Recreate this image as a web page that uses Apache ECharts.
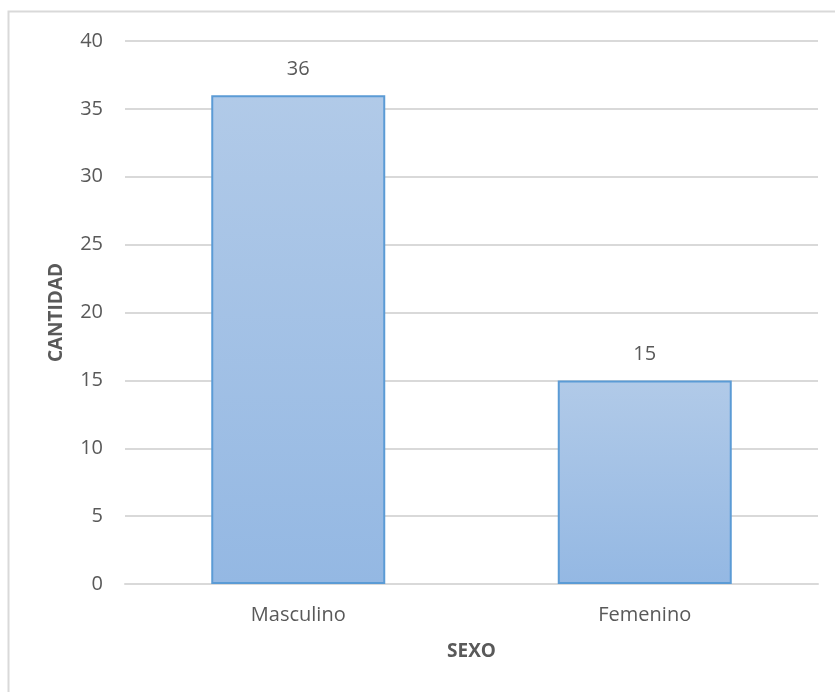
<!DOCTYPE html>
<html>
<head>
<meta charset="utf-8">
<script src="https://cdn.jsdelivr.net/npm/echarts@6/dist/echarts.min.js"></script>
<style>
  html, body { margin: 0; padding: 0; background: #fff; }
  #chart { width: 835px; height: 692px; }
</style>
</head>
<body>
<div id="chart"></div>
<script>
// Count of people by sex
const categories = ['Masculino', 'Femenino'];
const counts = [36, 15];
const yTicks = { min: 0, max: 40, step: 5 };

const textGray = '#595959';
const fontFam = '"Open Sans", "Liberation Sans", sans-serif';

const chart = echarts.init(document.getElementById('chart'), null, { renderer: 'canvas' });
chart.setOption({
  backgroundColor: '#ffffff',
  animation: false,
  graphic: [{
    type: 'rect',
    shape: { x: 8.5, y: 11.5, width: 900, height: 800 },
    style: { fill: 'none', stroke: '#d9d9d9', lineWidth: 2 },
    silent: true
  }],
  grid: { left: 125, right: 17, top: 41, bottom: 108 },
  xAxis: {
    type: 'category',
    data: categories,
    name: 'SEXO',
    nameLocation: 'middle',
    nameGap: 58,
    nameTextStyle: { color: textGray, fontSize: 19, fontWeight: 'bold', fontFamily: fontFam },
    axisLine: { lineStyle: { color: '#d9d9d9', width: 2 } },
    axisTick: { show: false },
    axisLabel: { color: textGray, fontSize: 20, margin: 21, fontFamily: fontFam }
  },
  yAxis: {
    type: 'value',
    min: yTicks.min,
    max: yTicks.max,
    interval: yTicks.step,
    name: 'CANTIDAD',
    nameLocation: 'middle',
    nameGap: 59,
    nameTextStyle: { color: textGray, fontSize: 19, fontWeight: 'bold', fontFamily: fontFam },
    axisLine: { show: false },
    axisTick: { show: false },
    axisLabel: { color: textGray, fontSize: 20, margin: 22, fontFamily: fontFam },
    splitLine: { lineStyle: { color: '#d9d9d9', width: 2 } }
  },
  series: [{
    type: 'bar',
    data: counts,
    barWidth: 174,
    itemStyle: {
      color: new echarts.graphic.LinearGradient(0, 0, 0, 1, [
        { offset: 0, color: '#b1cae8' },
        { offset: 1, color: '#94b8e3' }
      ]),
      borderColor: '#5b9bd5',
      borderWidth: 2
    },
    label: {
      show: true,
      position: 'top',
      distance: 16,
      color: textGray,
      fontSize: 20,
      fontFamily: fontFam
    }
  }]
});
</script>
</body>
</html>
